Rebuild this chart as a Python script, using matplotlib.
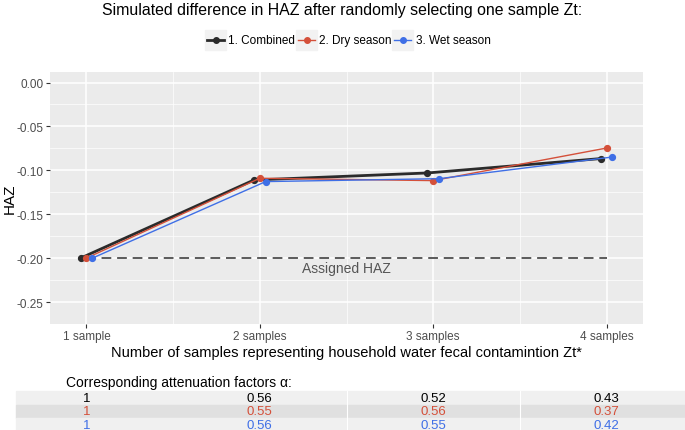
import numpy as np
import matplotlib
matplotlib.use("Agg")
import matplotlib.pyplot as plt
from matplotlib.patches import Rectangle
from matplotlib.lines import Line2D
from matplotlib import transforms

plt.rcParams['font.family'] = ['Liberation Sans', 'DejaVu Sans']

# data
samples = [1, 2, 3, 4]
tick_labels = ["1 sample", "2 samples", "3 samples", "4 samples"]
series_names = ["1. Combined", "2. Dry season", "3. Wet season"]
haz_combined = [-0.200, -0.111, -0.103, -0.0866]
haz_dry = [-0.200, -0.109, -0.1117, -0.0746]
haz_wet = [-0.200, -0.1128, -0.1095, -0.0848]
assigned_haz = -0.20
y_ticks = [-0.25, -0.20, -0.15, -0.10, -0.05, 0.00]
alpha_combined = ["1", "0.56", "0.52", "0.43"]
alpha_dry = ["1", "0.55", "0.56", "0.37"]
alpha_wet = ["1", "0.56", "0.55", "0.42"]

colors = ["#2b2b2b", "#d4503a", "#3f6fe6"]
widths = [2.0, 1.0, 1.0]
dodge = [-0.034, 0.0, 0.034]

W, H = 685, 431
fig = plt.figure(figsize=(W / 100, H / 100), dpi=100)

def fx(px):
    return px / W

def fy(py):
    return 1 - py / H

ax = fig.add_axes([fx(50), fy(325), fx(643) - fx(50), fy(73) - fy(325)])
ax.set_facecolor("#ebebeb")
for s in ax.spines.values():
    s.set_visible(False)

ax.set_xlim(0.79, 4.21)
ax.set_ylim(-0.2632, 0.012)
ax.set_yticks(y_ticks)
ax.set_yticks(np.arange(-0.275, 0.01, 0.05), minor=True)
ax.set_yticklabels(["%.2f" % abs(v) if v == 0 else "%.2f" % v for v in y_ticks])
ax.set_xticks(samples)
ax.set_xticks([1.5, 2.5, 3.5], minor=True)
ax.set_xticklabels(tick_labels)
ax.grid(which="major", color="white", lw=1.1)
ax.grid(which="minor", color="white", lw=0.5)
ax.set_axisbelow(True)
ax.tick_params(which="major", length=3, color="#333333", labelsize=8.5,
               labelcolor="#4d4d4d", pad=1.5)
ax.tick_params(which="minor", length=0)

# assigned line
ax.plot([1, 4], [assigned_haz, assigned_haz], ls=(0, (5, 3)), color="#5a5a5a", lw=1.4, zorder=1)
ax.text(2.5, -0.2112, "Assigned HAZ", ha="center", va="center", fontsize=10, color="#555555")

series = [haz_combined, haz_dry, haz_wet]
for vals, c, lw, d in zip(series, colors, widths, dodge):
    xs = np.array(samples) + d
    ax.plot(xs, vals, color=c, lw=lw, marker="o", ms=4.2, zorder=3)

ax.set_ylabel("HAZ", fontsize=11)
ax.yaxis.set_label_coords((17 - 50) / 593, 0.5)
ax.set_xlabel("Number of samples representing household water fecal contamintion Zt*",
              fontsize=10.5, labelpad=2)

fig.text(0.5, fy(11), "Simulated difference in HAZ after randomly selecting one sample Zt:",
         ha="center", va="center", fontsize=11.4)

# legend drawn by hand
keys = [(205, 228), (296, 319), (392, 416)]
for (kx, tx), name, c, lw in zip(keys, series_names, colors, widths):
    fig.patches.append(Rectangle((fx(kx), fy(51)), fx(21), fy(31) - fy(51),
                                 transform=fig.transFigure, color="#f2f2f2", zorder=0))
    fig.lines.append(Line2D([fx(kx + 2), fx(kx + 19)], [fy(41), fy(41)], color=c, lw=lw,
                            transform=fig.transFigure))
    fig.lines.append(Line2D([fx(kx + 10.5)], [fy(41)], color=c, marker="o", ms=4,
                            transform=fig.transFigure))
    fig.text(fx(tx), fy(41), name, ha="left", va="center", fontsize=8.5)

# table of attenuation factors
fig.text(fx(66), fy(383), "Corresponding attenuation factors \u03b1:", ha="left", va="center",
         fontsize=10)
rows = [alpha_combined, alpha_dry, alpha_wet]
row_top = [392, 405.5, 419]
row_bg = ["#f0f0f0", "#e0e0e0", "#f0f0f0"]
blend = transforms.blended_transform_factory(ax.transData, fig.transFigure)
for vals, top, bg, c in zip(rows, row_top, row_bg, colors):
    fig.patches.append(Rectangle((fx(16), fy(top + 13.5)), 1 - fx(16), fy(top) - fy(top + 13.5),
                                 transform=fig.transFigure, color=bg, zorder=0))
    tc = "#000000" if c == colors[0] else c
    for xv, v in zip(samples, vals):
        fig.text(xv, fy(top + 7), v, transform=blend, ha="center", va="center",
                 fontsize=9.5, color=tc)
for xv in [2.5, 3.5]:
    fig.lines.append(Line2D([xv, xv], [fy(432), fy(392)], color="white", lw=0.8,
                            transform=blend))

fig.savefig("out.png", dpi=100)
